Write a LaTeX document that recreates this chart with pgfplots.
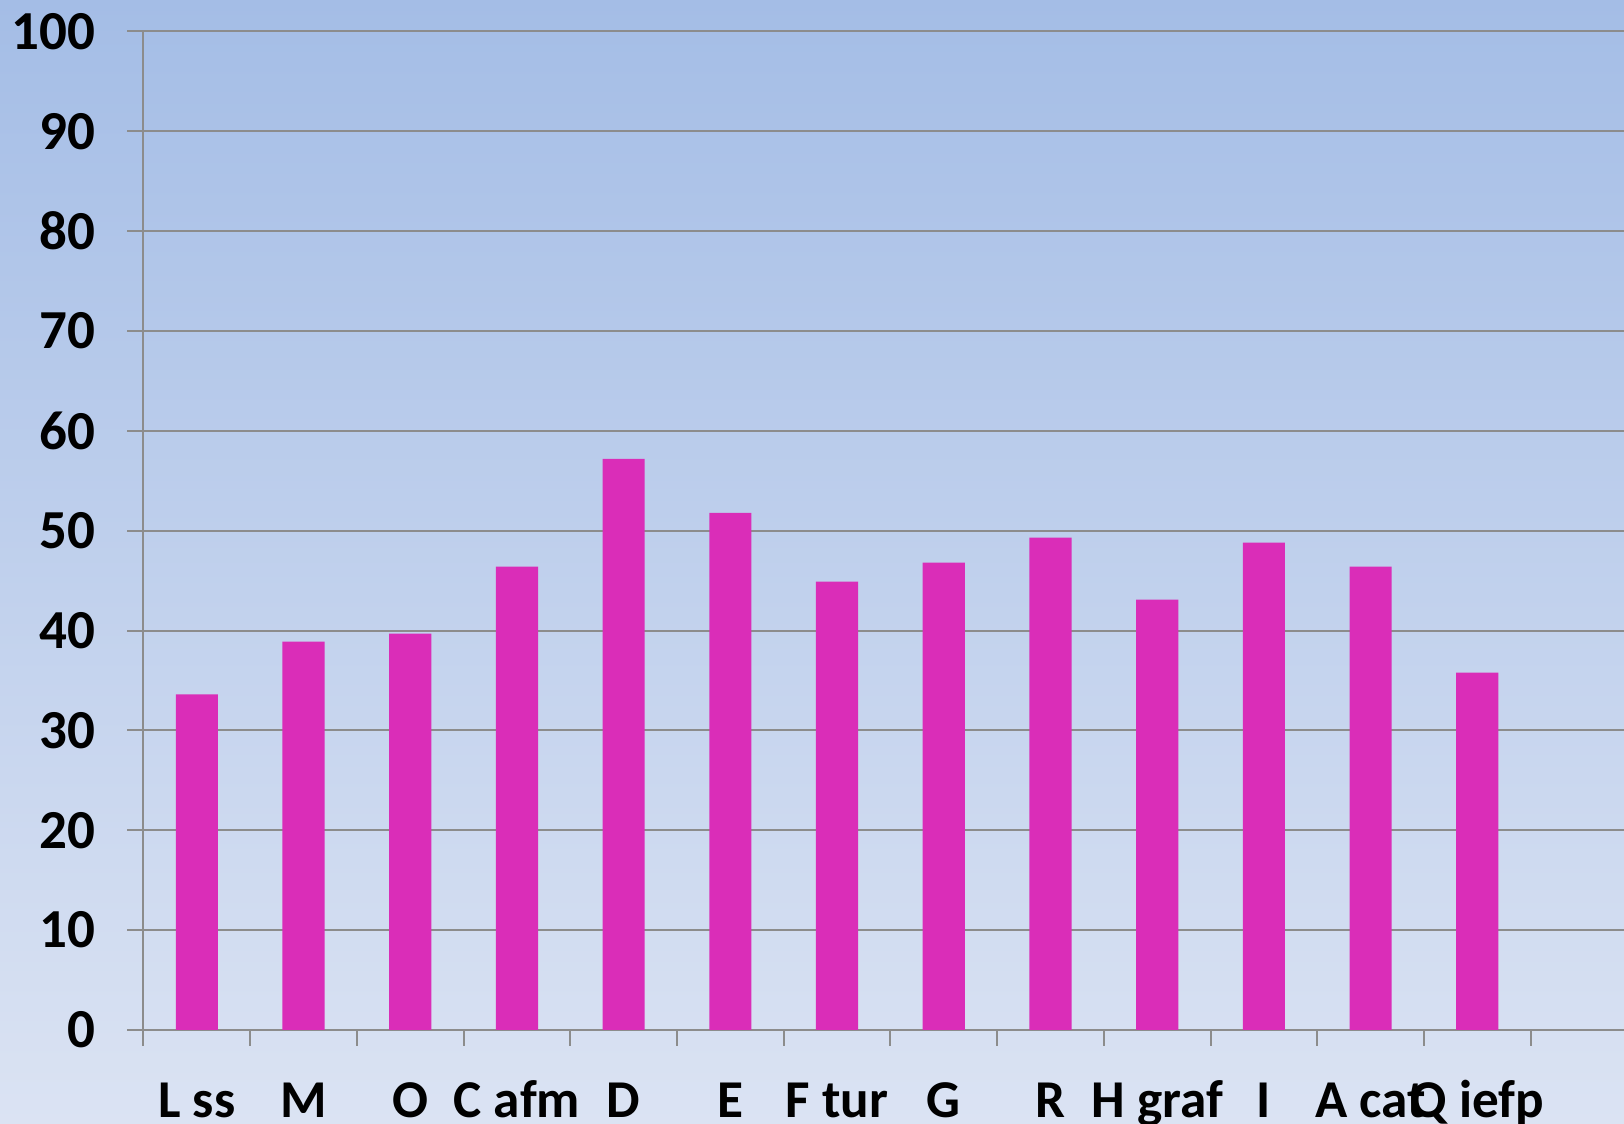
\documentclass[border=0pt]{standalone}
\usepackage{pgfplots}
\pgfplotsset{compat=1.18}
\usepackage{fontspec}
\setmainfont{Carlito}
\definecolor{bgtop}{RGB}{164,189,230}
\definecolor{bgbot}{RGB}{219,227,243}
\definecolor{barcol}{RGB}{218,45,184}
\definecolor{gridgray}{RGB}{140,140,140}
\begin{document}
\begin{tikzpicture}
\useasboundingbox (0,0) rectangle (812pt,562pt);
\shade[top color=bgtop, bottom color=bgbot] (0,0) rectangle (812pt,562pt);
\begin{axis}[
  at={(71.75pt,47pt)}, anchor=south west,
  scale only axis, width=740.25pt, height=499.25pt,
  xmin=-0.5, xmax=13.375, ymin=0, ymax=100,
  ytick={0,10,...,100},
  xtick={0,...,12},
  xticklabels={L ss,M,O,C afm,D,E,F tur,G,R,H graf,I,A cat,Q iefp},
  extra x ticks={-0.5,0.5,...,12.5},
  extra x tick labels={},
  extra x tick style={xtick style={draw=gridgray, line width=1pt}},
  xtick style={draw=none},
  ytick style={draw=gridgray, line width=1pt},
  axis lines=left,
  axis line style={draw=gridgray, line width=1pt, -},
  ymajorgrids,
  grid style={draw=gridgray, line width=1pt},
  tick align=outside,
  major tick length=8pt,
  /pgf/number format/assume math mode=true,
  yticklabel style={font=\fontsize{27.5}{31}\selectfont\bfseries, text=black, anchor=east, xshift=-12.5pt},
  xticklabel style={font=\fontsize{26.6}{30}\selectfont\bfseries, text=black, anchor=base, yshift=-35.5pt},
]
\addplot[ybar, bar width=0.395, fill=barcol, draw=none] coordinates {
(0,33.6) (1,38.9) (2,39.7) (3,46.4) (4,57.2) (5,51.8) (6,44.9) (7,46.8) (8,49.3) (9,43.1) (10,48.8) (11,46.4) (12,35.8)};
\end{axis}
\end{tikzpicture}
\end{document}
